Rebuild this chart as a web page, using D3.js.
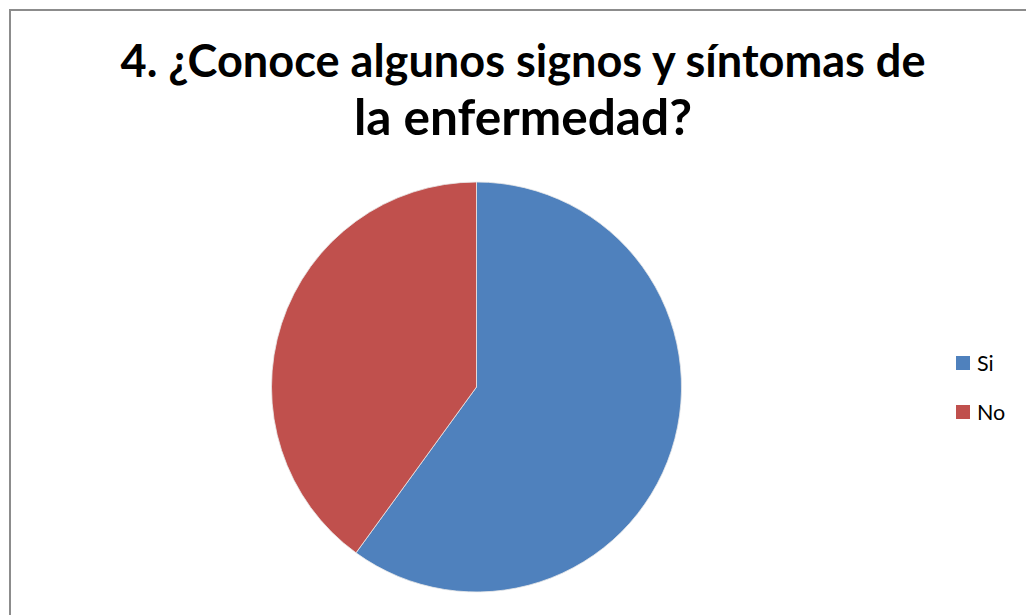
<!DOCTYPE html>
<html>
<head>
<meta charset="utf-8">
<script src="https://cdn.jsdelivr.net/npm/d3@7"></script>
<style>
  html, body { margin: 0; padding: 0; background: #fff; }
  svg { display: block; }
</style>
</head>
<body>
<svg id="chart" width="1026" height="615"></svg>
<script>
// Responses to question 4
const categories = ["Si", "No"];
const values = [60, 40];
const colors = ["#4F81BD", "#C0504D"];
const titleLines = ["4. ¿Conoce algunos signos y síntomas de", "la enfermedad?"];

const svg = d3.select("#chart");

// Chart frame (extends past the right and bottom edges)
svg.append("rect")
  .attr("x", 10).attr("y", 10)
  .attr("width", 1040).attr("height", 640)
  .attr("fill", "#fff")
  .attr("stroke", "#8c8c8c")
  .attr("stroke-width", 2);

// Title
const titleFont = "Lato, 'Open Sans', sans-serif";
const title = svg.append("g").attr("font-family", titleFont).attr("font-weight", "bold").attr("fill", "#000");
const titleSpecs = [
  { text: titleLines[0], y: 77, width: 805 },
  { text: titleLines[1], y: 135, width: 338 }
];
titleSpecs.forEach(s => {
  const t = title.append("text")
    .attr("x", 523).attr("y", s.y)
    .attr("text-anchor", "middle")
    .attr("font-size", 42)
    .text(s.text);
  const w = t.node().getComputedTextLength();
  t.attr("font-size", 42 * s.width / w);
});

// Pie
const cx = 476.5, cy = 387, r = 205;
const pie = d3.pie().sort(null).value(d => d.value);
const arc = d3.arc().innerRadius(0).outerRadius(r);
const data = categories.map((c, i) => ({ name: c, value: values[i], color: colors[i] }));

svg.append("g")
  .attr("transform", `translate(${cx},${cy})`)
  .selectAll("path")
  .data(pie(data))
  .join("path")
  .attr("d", arc)
  .attr("fill", d => d.data.color)
  .attr("stroke", "#e8e8e8")
  .attr("stroke-width", 0.8);

// Legend
const legend = svg.append("g").attr("font-family", "Lato, 'Open Sans', sans-serif");
const ly = d3.scalePoint().domain(categories).range([356, 405]);
const item = legend.selectAll("g").data(data).join("g")
  .attr("transform", d => `translate(956,${ly(d.name)})`);
item.append("rect").attr("width", 14).attr("height", 14).attr("fill", d => d.color);
item.append("text")
  .attr("x", 21).attr("y", 15)
  .attr("font-size", 21.5)
  .attr("fill", "#000")
  .text(d => d.name);
</script>
</body>
</html>
